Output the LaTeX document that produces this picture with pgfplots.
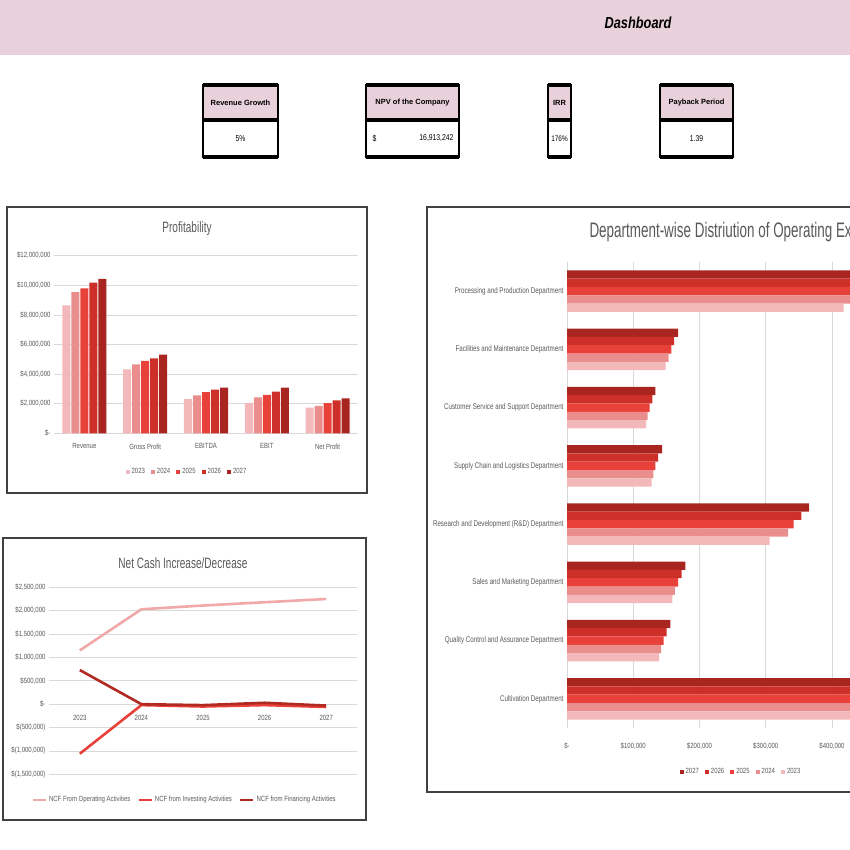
\documentclass[border=0pt]{standalone}
\usepackage{pgfplots}
\pgfplotsset{compat=1.18}
\usepackage{fontspec}
\setmainfont{Liberation Sans}
\newfontfamily\tickfont[FakeStretch=0.8]{Liberation Sans}
\newfontfamily\titlefont[FakeStretch=0.67]{Liberation Sans}
\newfontfamily\dtitlefont[FakeStretch=0.64]{Liberation Sans}
\newfontfamily\catfont[FakeStretch=0.75]{Liberation Sans}
\newfontfamily\dashfont[FakeStretch=0.8]{Liberation Sans}
\definecolor{cA}{HTML}{F2B8BA}
\definecolor{cB}{HTML}{E98D8D}
\definecolor{cC}{HTML}{E8413A}
\definecolor{cD}{HTML}{CC3028}
\definecolor{cE}{HTML}{A8261F}
\definecolor{banner}{HTML}{E9D1DB}
\definecolor{txt}{HTML}{595959}
\definecolor{gridc}{HTML}{D9D9D9}
\definecolor{framec}{HTML}{404040}
\definecolor{lnA}{HTML}{F0A8A8}
\definecolor{lnB}{HTML}{E8413A}
\definecolor{lnC}{HTML}{B02A22}
\pgfplotsset{
  dash/.style={
    scale only axis, anchor=south west,
    axis line style={draw=none},
    major tick length=0pt,
    tick style={draw=none},
    major grid style={gridc, line width=0.7pt},
    ticklabel style={text=txt, font=\tickfont\fontsize{7.5}{8}\selectfont},
    legend style={draw=none, fill=none, font=\tickfont\fontsize{7.5}{8}\selectfont, text=txt},
    enlargelimits=false,
  },
}
\begin{document}
\begin{tikzpicture}[x=1pt,y=1pt]
\useasboundingbox (0,0) rectangle (850,850);
\clip (0,0) rectangle (850,850);
% banner
\fill[banner] (0,795) rectangle (850,850);
\node[font=\dashfont\bfseries\itshape\fontsize{16}{18}\selectfont] at (638,827) {Dashboard};
% KPI boxes
\foreach \xa/\xb/\head in {203/278/Revenue Growth, 366/459/NPV of the Company, 548/571/IRR, 660/733/Payback Period}{
  \fill[banner] (\xa,765) rectangle (\xb,730);
  \draw[line width=2pt] (\xa,693) rectangle (\xb,765);
  \draw[line width=3.5pt] (\xa,765) -- (\xb,765);
  \draw[line width=3.5pt] (\xa,730) -- (\xb,730);
  \draw[line width=3.5pt] (\xa,693) -- (\xb,693);
  \node[font=\bfseries\fontsize{7.5}{8}\selectfont] at ({(\xa+\xb)/2},747.5) {\head};
}
\node[font=\tickfont\fontsize{8.5}{9}\selectfont] at (240.5,711.5) {5\%};
\node[font=\tickfont\fontsize{8.5}{9}\selectfont, anchor=west] at (369,711.5) {\$};
\node[font=\tickfont\fontsize{8.5}{9}\selectfont, anchor=east] at (457,711.5) {16,913,242};
\node[font=\tickfont\fontsize{8}{9}\selectfont] at (559.5,711.5) {176\%};
\node[font=\tickfont\fontsize{8.5}{9}\selectfont] at (696.5,711.5) {1.39};
% frames
\draw[framec, line width=1.8pt] (7,643) rectangle (367,357);
\draw[framec, line width=1.8pt] (3,312) rectangle (366,30);
\draw[framec, line width=1.8pt] (427,643) rectangle (1100,58);
% titles
\node[text=txt, font=\titlefont\fontsize{15}{16}\selectfont] at (187,621) {Profitability};
\node[text=txt, font=\titlefont\fontsize{15}{16}\selectfont] at (183,287) {Net Cash Increase/Decrease};
\node[text=txt, font=\dtitlefont\fontsize{21}{22}\selectfont, anchor=west] at (586,618) {Department-wise Distriution of Operating Expenses};

% Profitability
\begin{axis}[dash, at={(54pt,416.7pt)}, width=304pt, height=177.6pt,
  ymin=0, ymax=12000000, xmin=-0.5, xmax=4.5,
  ytick={0,2000000,4000000,6000000,8000000,10000000,12000000},
  yticklabels={{\$-},{\$2,000,000},{\$4,000,000},{\$6,000,000},{\$8,000,000},{\$10,000,000},{\$12,000,000}},
  scaled y ticks=false,
  xtick={0,1,2,3,4},
  xticklabels={Revenue,Gross Profit,EBITDA,EBIT,Net Profit},
  xticklabel style={yshift=-7pt},
  ymajorgrids,
  ybar=1pt, bar width=8pt,
  legend columns=5,
  legend style={at={(0.4375,-0.216)}, anchor=center, /tikz/every even column/.append style={column sep=4pt}},
  legend image code/.code={\fill[#1] (0pt,-2pt) rectangle (4pt,2pt);},
]
\addplot[fill=cA, draw=none] coordinates {(0,8650000) (1,4320000) (2,2320000) (3,2050000) (4,1730000)};
\addplot[fill=cB, draw=none] coordinates {(0,9530000) (1,4660000) (2,2570000) (3,2430000) (4,1850000)};
\addplot[fill=cC, draw=none] coordinates {(0,9800000) (1,4890000) (2,2790000) (3,2590000) (4,2030000)};
\addplot[fill=cD, draw=none] coordinates {(0,10180000) (1,5070000) (2,2950000) (3,2820000) (4,2230000)};
\addplot[fill=cE, draw=none] coordinates {(0,10430000) (1,5320000) (2,3090000) (3,3090000) (4,2360000)};
\legend{2023,2024,2025,2026,2027}
\end{axis}

% Net cash
\begin{axis}[dash, at={(49pt,75.7pt)}, width=308pt, height=187pt,
  axis x line=middle, axis y line=left,
  axis line style={draw=none}, x axis line style={draw=none}, y axis line style={draw=none},
  hide obscured x ticks=false, hide obscured y ticks=false,
  ymin=-1500000, ymax=2500000, xmin=-0.5, xmax=4.5,
  ytick={-1500000,-1000000,-500000,0,500000,1000000,1500000,2000000,2500000},
  yticklabels={{\$(1,500,000)},{\$(1,000,000)},{\$(500,000)},{\$-},{\$500,000},{\$1,000,000},{\$1,500,000},{\$2,000,000},{\$2,500,000}},
  scaled y ticks=false,
  xtick={0,1,2,3,4},
  xticklabels={2023,2024,2025,2026,2027},
  xticklabel style={yshift=-8pt},
  ymajorgrids,
  legend columns=3,
  legend style={at={(0.44,-0.137)}, anchor=center, /tikz/every even column/.append style={column sep=5pt}},
  legend image code/.code={\draw[#1] (0pt,0pt) -- (13pt,0pt);},
]
\addplot[lnA, line width=2.6pt] coordinates {(0,1150000) (1,2030000) (2,2110000) (3,2180000) (4,2250000)};
\addplot[lnB, line width=2.6pt] coordinates {(0,-1060000) (1,-20000) (2,-50000) (3,-20000) (4,-60000)};
\addplot[lnC, line width=2.6pt] coordinates {(0,730000) (1,0) (2,-20000) (3,30000) (4,-30000)};
\legend{NCF From Operating Activities,NCF from Investing Activities,NCF from Financing Activities}
\end{axis}

% Department
\begin{axis}[dash, at={(567pt,122pt)}, width=397.5pt, height=466pt,
  xmin=0, xmax=600000, ymin=-0.5, ymax=7.5, y dir=reverse,
  xtick={0,100000,200000,300000,400000},
  xticklabels={{\$-},{\$100,000},{\$200,000},{\$300,000},{\$400,000}},
  scaled x ticks=false,
  extra x ticks={500000,600000}, extra x tick labels={},
  extra x tick style={xmajorgrids},
  xticklabel style={yshift=-11pt},
  ytick={0,1,2,3,4,5,6,7},
  yticklabels={Processing and Production Department,Facilities and Maintenance Department,Customer Service and Support Department,Supply Chain and Logistics Department,Research and Development (R\&D) Department,Sales and Marketing Department,Quality Control and Assurance Department,Cultivation Department},
  yticklabel style={font=\catfont\fontsize{8.3}{9}\selectfont, text=txt},
  xmajorgrids,
  xbar=0pt, bar width=8.3pt,
  legend columns=5,
  legend style={at={(0.4377,-0.094)}, anchor=center, /tikz/every even column/.append style={column sep=4pt}},
  legend image code/.code={\fill[#1] (0pt,-2pt) rectangle (4pt,2pt);},
]
\addplot[fill=cE, draw=none, bar shift=16.6pt] coordinates {(497000,0) (167600,1) (133400,2) (143400,3) (365400,4) (178700,5) (156000,6) (540000,7)};
\addplot[fill=cD, draw=none, bar shift=8.3pt] coordinates {(482000,0) (161500,1) (128800,2) (137400,3) (353800,4) (173000,5) (150500,6) (520000,7)};
\addplot[fill=cC, draw=none, bar shift=0pt] coordinates {(466000,0) (157500,1) (124800,2) (133400,3) (342000,4) (167600,5) (145900,6) (505000,7)};
\addplot[fill=cB, draw=none, bar shift=-8.3pt] coordinates {(455000,0) (153500,1) (121800,2) (130300,3) (333700,4) (163000,5) (141900,6) (490000,7)};
\addplot[fill=cA, draw=none, bar shift=-16.6pt] coordinates {(417700,0) (149000,1) (119300,2) (127800,3) (306000,4) (159000,5) (138900,6) (470000,7)};
\legend{2027,2026,2025,2024,2023}
\end{axis}
\end{tikzpicture}
\end{document}
